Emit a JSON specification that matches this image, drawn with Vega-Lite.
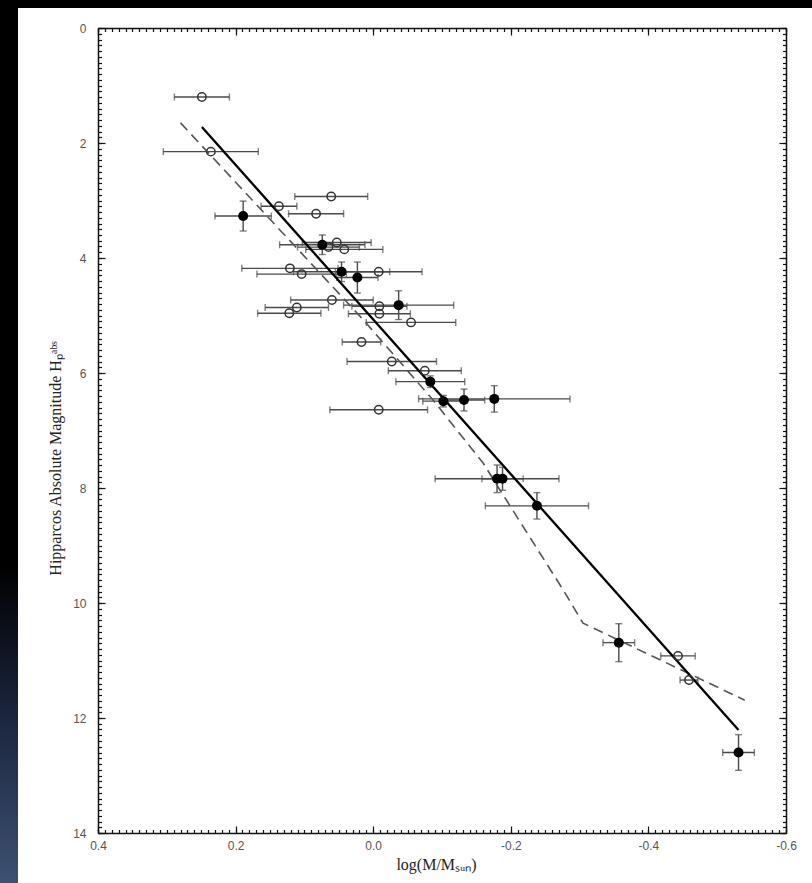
{
  "$schema": "https://vega.github.io/schema/vega-lite/v6.json",
  "width": 688,
  "height": 805,
  "autosize": {"type": "none"},
  "padding": {"left": 98, "top": 28, "right": 26, "bottom": 50},
  "background": "#000000",
  "config": {
    "view": {"stroke": null},
    "axis": {
      "domainColor": "#111111",
      "domainWidth": 1.5,
      "tickColor": "#111111",
      "tickWidth": 1.2,
      "grid": false,
      "labelFont": "Liberation Sans",
      "labelFontSize": 12,
      "labelColor": "#555555",
      "labelOverlap": false,
      "labelFlush": false,
      "labelBound": false,
      "titleFont": "Liberation Serif",
      "titleFontWeight": "normal",
      "titleColor": "#222222",
      "titleFontSize": 16
    }
  },
  "datasets": {
    "stars": [
      {"x": 0.249, "y": 1.20, "xerr": 0.040, "yerr": 0, "kind": "open"},
      {"x": 0.236, "y": 2.15, "xerr": 0.069, "yerr": 0, "kind": "open"},
      {"x": 0.061, "y": 2.93, "xerr": 0.053, "yerr": 0, "kind": "open"},
      {"x": 0.137, "y": 3.10, "xerr": 0.026, "yerr": 0, "kind": "open"},
      {"x": 0.083, "y": 3.23, "xerr": 0.040, "yerr": 0, "kind": "open"},
      {"x": 0.053, "y": 3.73, "xerr": 0.050, "yerr": 0, "kind": "open"},
      {"x": 0.065, "y": 3.81, "xerr": 0.045, "yerr": 0, "kind": "open"},
      {"x": 0.042, "y": 3.85, "xerr": 0.056, "yerr": 0, "kind": "open"},
      {"x": 0.121, "y": 4.18, "xerr": 0.070, "yerr": 0, "kind": "open"},
      {"x": 0.104, "y": 4.28, "xerr": 0.065, "yerr": 0, "kind": "open"},
      {"x": -0.008, "y": 4.24, "xerr": 0.063, "yerr": 0, "kind": "open"},
      {"x": 0.060, "y": 4.73, "xerr": 0.060, "yerr": 0, "kind": "open"},
      {"x": -0.009, "y": 4.84, "xerr": 0.040, "yerr": 0, "kind": "open"},
      {"x": -0.009, "y": 4.97, "xerr": 0.045, "yerr": 0, "kind": "open"},
      {"x": 0.111, "y": 4.86, "xerr": 0.046, "yerr": 0, "kind": "open"},
      {"x": 0.122, "y": 4.96, "xerr": 0.046, "yerr": 0, "kind": "open"},
      {"x": -0.055, "y": 5.12, "xerr": 0.065, "yerr": 0, "kind": "open"},
      {"x": 0.017, "y": 5.46, "xerr": 0.028, "yerr": 0, "kind": "open"},
      {"x": -0.027, "y": 5.80, "xerr": 0.065, "yerr": 0, "kind": "open"},
      {"x": -0.075, "y": 5.96, "xerr": 0.053, "yerr": 0, "kind": "open"},
      {"x": -0.008, "y": 6.64, "xerr": 0.071, "yerr": 0, "kind": "open"},
      {"x": -0.443, "y": 10.92, "xerr": 0.025, "yerr": 0, "kind": "open"},
      {"x": -0.459, "y": 11.34, "xerr": 0.013, "yerr": 0, "kind": "open"},
      {"x": 0.189, "y": 3.27, "xerr": 0.041, "yerr": 0.26, "kind": "filled"},
      {"x": 0.074, "y": 3.77, "xerr": 0.062, "yerr": 0.17, "kind": "filled"},
      {"x": 0.046, "y": 4.24, "xerr": 0.070, "yerr": 0.17, "kind": "filled"},
      {"x": 0.023, "y": 4.34, "xerr": 0.030, "yerr": 0.27, "kind": "filled"},
      {"x": -0.037, "y": 4.82, "xerr": 0.080, "yerr": 0.25, "kind": "filled"},
      {"x": -0.083, "y": 6.15, "xerr": 0.050, "yerr": 0.10, "kind": "filled"},
      {"x": -0.102, "y": 6.49, "xerr": 0.030, "yerr": 0.10, "kind": "filled"},
      {"x": -0.132, "y": 6.47, "xerr": 0.030, "yerr": 0.19, "kind": "filled"},
      {"x": -0.176, "y": 6.45, "xerr": 0.110, "yerr": 0.23, "kind": "filled"},
      {"x": -0.180, "y": 7.84, "xerr": 0.090, "yerr": 0.24, "kind": "filled"},
      {"x": -0.188, "y": 7.84, "xerr": 0.030, "yerr": 0.20, "kind": "filled"},
      {"x": -0.238, "y": 8.31, "xerr": 0.075, "yerr": 0.23, "kind": "filled"},
      {"x": -0.357, "y": 10.69, "xerr": 0.023, "yerr": 0.33, "kind": "filled"},
      {"x": -0.531, "y": 12.60, "xerr": 0.023, "yerr": 0.31, "kind": "filled"}
    ],
    "solid": [
      {"x": 0.249, "y": 1.72},
      {"x": -0.531, "y": 12.21}
    ],
    "dashed": [
      {"x": 0.280, "y": 1.65},
      {"x": 0.014, "y": 5.08},
      {"x": -0.087, "y": 6.47},
      {"x": -0.160, "y": 7.57},
      {"x": -0.184, "y": 8.03},
      {"x": -0.276, "y": 9.77},
      {"x": -0.305, "y": 10.35},
      {"x": -0.540, "y": 11.69}
    ]
  },
  "resolve": {"axis": {"x": "independent", "y": "independent"}},
  "layer": [
    {
      "data": {"values": [{}]},
      "mark": {"type": "rect", "color": "#ffffff"},
      "encoding": {
        "x": {"datum": 0.5163, "type": "quantitative", "scale": {"domain": [-0.6, 0.4], "reverse": true, "nice": false, "zero": false}, "axis": null},
        "x2": {"datum": -0.7},
        "y": {"datum": -0.348, "type": "quantitative", "scale": {"domain": [0, 14], "reverse": true, "nice": false, "zero": false}, "axis": null},
        "y2": {"datum": 15.5}
      }
    },
    {
      "data": {"values": [{}]},
      "mark": {
        "type": "rect",
        "color": {
          "gradient": "linear", "x1": 0, "y1": 0, "x2": 0, "y2": 1,
          "stops": [
            {"offset": 0, "color": "#000000"},
            {"offset": 0.64, "color": "#000000"},
            {"offset": 0.82, "color": "#1c2740"},
            {"offset": 1, "color": "#3d5173"}
          ]
        }
      },
      "encoding": {
        "x": {"datum": 0.56, "type": "quantitative", "scale": {"domain": [-0.6, 0.4], "reverse": true, "nice": false, "zero": false}, "axis": null},
        "x2": {"datum": 0.5163},
        "y": {"datum": -0.487, "type": "quantitative", "scale": {"domain": [0, 14], "reverse": true, "nice": false, "zero": false}, "axis": null},
        "y2": {"datum": 14.87}
      }
    },
    {
      "data": {"name": "stars"},
      "mark": {"type": "errorbar", "ticks": {"size": 7}, "color": "#4a4a4a", "thickness": 1.4},
      "encoding": {
        "x": {"field": "x", "type": "quantitative", "scale": {"domain": [-0.6, 0.4], "reverse": true, "nice": false, "zero": false}, "axis": null},
        "xError": {"field": "xerr"},
        "y": {"field": "y", "type": "quantitative", "scale": {"domain": [0, 14], "reverse": true, "nice": false, "zero": false}, "axis": null}
      }
    },
    {
      "data": {"name": "stars"},
      "transform": [{"filter": "datum.yerr > 0"}],
      "mark": {"type": "errorbar", "ticks": {"size": 7}, "color": "#4a4a4a", "thickness": 1.4},
      "encoding": {
        "y": {"field": "y", "type": "quantitative", "scale": {"domain": [0, 14], "reverse": true, "nice": false, "zero": false}, "axis": null},
        "yError": {"field": "yerr"},
        "x": {"field": "x", "type": "quantitative", "scale": {"domain": [-0.6, 0.4], "reverse": true, "nice": false, "zero": false}, "axis": null}
      }
    },
    {
      "data": {"name": "dashed"},
      "mark": {"type": "line", "color": "#555555", "strokeWidth": 1.6, "strokeDash": [10, 6]},
      "encoding": {
        "x": {"field": "x", "type": "quantitative", "scale": {"domain": [-0.6, 0.4], "reverse": true, "nice": false, "zero": false},
          "axis": {"orient": "top", "zindex": 2, "labels": false, "title": null, "values": [-0.6, -0.4, -0.2, 0, 0.2, 0.4], "tickSize": -7}},
        "y": {"field": "y", "type": "quantitative", "scale": {"domain": [0, 14], "reverse": true, "nice": false, "zero": false},
          "axis": {"orient": "right", "zindex": 2, "labels": false, "title": null, "values": [0, 2, 4, 6, 8, 10, 12, 14], "tickSize": -7}}
      }
    },
    {
      "data": {"name": "solid"},
      "mark": {"type": "line", "color": "#000000", "strokeWidth": 2.3},
      "encoding": {
        "x": {"field": "x", "type": "quantitative", "scale": {"domain": [-0.6, 0.4], "reverse": true, "nice": false, "zero": false},
          "axis": {"orient": "bottom", "zindex": 2, "values": [-0.6, -0.4, -0.2, 0, 0.2, 0.4], "tickSize": -7,
            "labelExpr": "(datum.value < -0.001 ? '-' : '') + format(abs(datum.value), '.1f')",
            "labelPadding": 14,
            "title": "log(M/Mₛᵤₙ)",
            "titleX": 338, "titleY": 31, "titleBaseline": "middle", "titleAlign": "center"}},
        "y": {"field": "y", "type": "quantitative", "scale": {"domain": [0, 14], "reverse": true, "nice": false, "zero": false},
          "axis": {"orient": "left", "zindex": 2, "values": [0, 2, 4, 6, 8, 10, 12, 14], "tickSize": -7,
            "labelExpr": "format(round(datum.value), 'd')",
            "labelPadding": 19,
            "title": "Hipparcos Absolute Magnitude Hₚᵃᵇˢ",
            "titleX": -38, "titleY": 430, "titleAngle": -90, "titleBaseline": "alphabetic", "titleAlign": "center"}}
      }
    },
    {
      "data": {"name": "stars"},
      "transform": [{"filter": "datum.kind === 'open'"}],
      "mark": {"type": "point", "shape": "circle", "filled": false, "stroke": "#333333", "strokeWidth": 1.5, "size": 70, "opacity": 1},
      "encoding": {
        "x": {"field": "x", "type": "quantitative", "scale": {"domain": [-0.6, 0.4], "reverse": true, "nice": false, "zero": false},
          "axis": {"orient": "bottom", "zindex": 2, "labels": false, "domain": false, "title": null, "tickCount": 100, "tickSize": -3.5}},
        "y": {"field": "y", "type": "quantitative", "scale": {"domain": [0, 14], "reverse": true, "nice": false, "zero": false},
          "axis": {"orient": "left", "zindex": 2, "labels": false, "domain": false, "title": null, "tickCount": 140, "tickSize": -3.5}}
      }
    },
    {
      "data": {"name": "stars"},
      "transform": [{"filter": "datum.kind === 'filled'"}],
      "mark": {"type": "circle", "color": "#000000", "size": 100, "opacity": 1},
      "encoding": {
        "x": {"field": "x", "type": "quantitative", "scale": {"domain": [-0.6, 0.4], "reverse": true, "nice": false, "zero": false},
          "axis": {"orient": "top", "zindex": 2, "labels": false, "domain": false, "title": null, "tickCount": 100, "tickSize": -3.5}},
        "y": {"field": "y", "type": "quantitative", "scale": {"domain": [0, 14], "reverse": true, "nice": false, "zero": false},
          "axis": {"orient": "right", "zindex": 2, "labels": false, "domain": false, "title": null, "tickCount": 140, "tickSize": -3.5}}
      }
    }
  ]
}
